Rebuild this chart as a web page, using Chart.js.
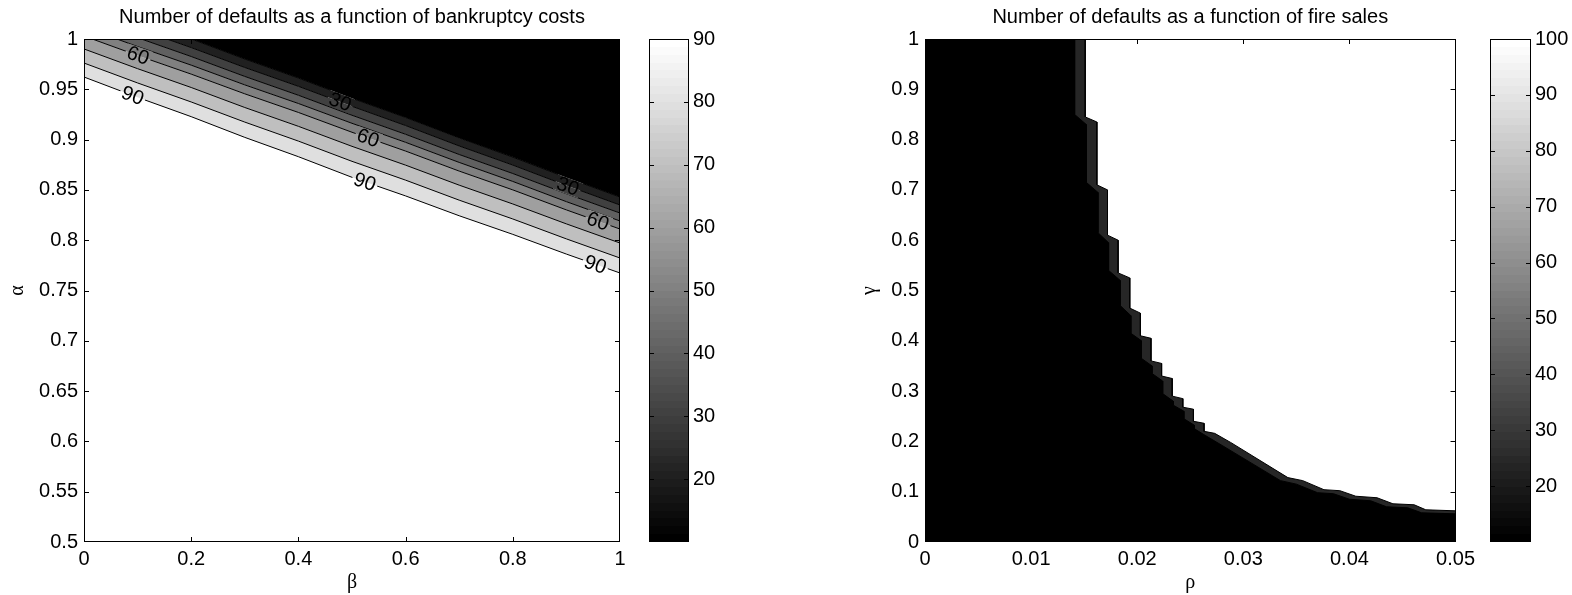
<!DOCTYPE html>
<html><head><meta charset="utf-8">
<script src="https://cdn.jsdelivr.net/npm/chart.js@4.4.1/dist/chart.umd.min.js"></script>
<style>
html,body{margin:0;padding:0;background:#fff;width:1572px;height:595px;overflow:hidden}
canvas{position:absolute;top:0}
</style></head><body>
<canvas id="c1" width="640" height="595" style="left:0px"></canvas>
<canvas id="c2" width="100" height="595" style="left:640px"></canvas>
<canvas id="c3" width="640" height="595" style="left:840px"></canvas>
<canvas id="c4" width="92" height="595" style="left:1480px"></canvas>
<script>
// ---------- data: left panel (bankruptcy costs) ----------
const leftTitle = 'Number of defaults as a function of bankruptcy costs';
const betaGrid = [0, 0.1, 0.2, 0.3, 0.4, 0.5, 0.6, 0.7, 0.8, 0.9, 1];
const contourLevels = [20, 30, 40, 50, 60, 70, 80, 90];
const contour20 = [1.0388, 1.0190, 1.0001, 0.9801, 0.9612, 0.9411, 0.9220, 0.9017, 0.8826, 0.8623, 0.8429];
const contour30 = [1.0298, 1.0102, 0.9915, 0.9717, 0.9530, 0.9331, 0.9140, 0.8937, 0.8747, 0.8544, 0.8350];
const contour40 = [1.0209, 1.0013, 0.9826, 0.9628, 0.9441, 0.9242, 0.9053, 0.8852, 0.8663, 0.8462, 0.8270];
const contour50 = [1.0119, 0.9925, 0.9740, 0.9544, 0.9359, 0.9162, 0.8973, 0.8773, 0.8584, 0.8383, 0.8191];
const contour60 = [1.0030, 0.9836, 0.9651, 0.9455, 0.9270, 0.9073, 0.8886, 0.8687, 0.8500, 0.8301, 0.8111];
const contour70 = [0.9901, 0.9705, 0.9518, 0.9319, 0.9132, 0.8933, 0.8746, 0.8547, 0.8360, 0.8162, 0.7972];
const contour80 = [0.9761, 0.9563, 0.9374, 0.9174, 0.8985, 0.8784, 0.8597, 0.8398, 0.8211, 0.8013, 0.7823];
const contour90 = [0.9622, 0.9420, 0.9228, 0.9022, 0.8830, 0.8625, 0.8440, 0.8243, 0.8058, 0.7862, 0.7674];
const labelLevel = [60, 90, 30, 60, 90, 30, 60, 90];
const labelBeta  = [0.101, 0.091, 0.478, 0.530, 0.524, 0.903, 0.959, 0.954];
const labelAlpha = [0.9838, 0.9440, 0.9377, 0.9018, 0.8582, 0.8538, 0.8189, 0.7760];
const betaTicks = [0, 0.2, 0.4, 0.6, 0.8, 1];
const betaTickLabels = ['0', '0.2', '0.4', '0.6', '0.8', '1'];
const alphaTicks = [0.5, 0.55, 0.6, 0.65, 0.7, 0.75, 0.8, 0.85, 0.9, 0.95, 1];
const alphaTickLabels = ['0.5', '0.55', '0.6', '0.65', '0.7', '0.75', '0.8', '0.85', '0.9', '0.95', '1'];
const cbLeftRange = [10, 90];
const cbLeftTicks = [20, 30, 40, 50, 60, 70, 80, 90];
const cbLeftTickLabels = ['20', '30', '40', '50', '60', '70', '80', '90'];

// ---------- data: right panel (fire sales) ----------
const rightTitle = 'Number of defaults as a function of fire sales';
const rhoInner   = [0, 0.0141, 0.0141, 0.0152, 0.0152, 0.0163, 0.0163, 0.0173, 0.0173, 0.0184, 0.0184, 0.0194, 0.0194, 0.0204, 0.0204, 0.0214, 0.0214, 0.0224, 0.0224, 0.0234, 0.0234, 0.0244, 0.0244, 0.0254, 0.0254, 0.0264, 0.0280, 0.0335, 0.0350, 0.0370, 0.0385, 0.0400, 0.0420, 0.0435, 0.0455, 0.0468, 0.0500];
const gammaInner = [1, 1, 0.850, 0.830, 0.715, 0.695, 0.615, 0.595, 0.540, 0.520, 0.470, 0.450, 0.415, 0.400, 0.365, 0.350, 0.335, 0.320, 0.295, 0.280, 0.272, 0.260, 0.245, 0.232, 0.225, 0.212, 0.192, 0.122, 0.115, 0.098, 0.096, 0.085, 0.082, 0.070, 0.068, 0.058, 0.056];
const rhoOuter   = [0, 0.0151, 0.0151, 0.0162, 0.0162, 0.0172, 0.0172, 0.0182, 0.0182, 0.0193, 0.0193, 0.0203, 0.0203, 0.0213, 0.0213, 0.0223, 0.0223, 0.0233, 0.0233, 0.0243, 0.0243, 0.0253, 0.0253, 0.0263, 0.0263, 0.0273, 0.0288, 0.0342, 0.0356, 0.0376, 0.0391, 0.0406, 0.0426, 0.0441, 0.0461, 0.0472, 0.0500];
const gammaOuter = [1, 1, 0.845, 0.835, 0.710, 0.700, 0.610, 0.600, 0.535, 0.525, 0.465, 0.455, 0.410, 0.405, 0.360, 0.355, 0.330, 0.325, 0.290, 0.285, 0.268, 0.264, 0.240, 0.236, 0.220, 0.216, 0.198, 0.128, 0.122, 0.104, 0.102, 0.091, 0.088, 0.076, 0.074, 0.064, 0.062];
const rhoTicks = [0, 0.01, 0.02, 0.03, 0.04, 0.05];
const rhoTickLabels = ['0', '0.01', '0.02', '0.03', '0.04', '0.05'];
const gammaTicks = [0, 0.1, 0.2, 0.3, 0.4, 0.5, 0.6, 0.7, 0.8, 0.9, 1];
const gammaTickLabels = ['0', '0.1', '0.2', '0.3', '0.4', '0.5', '0.6', '0.7', '0.8', '0.9', '1'];
const cbRightRange = [10, 100];
const cbRightTicks = [20, 30, 40, 50, 60, 70, 80, 90, 100];
const cbRightTickLabels = ['20', '30', '40', '50', '60', '70', '80', '90', '100'];

// ---------- styling helpers ----------
const SANS = "'Liberation Sans', Arial, Helvetica, sans-serif";
const SERIF = "'Liberation Serif', 'Times New Roman', serif";
Chart.defaults.font.family = SANS;
Chart.defaults.font.size = 20;
Chart.defaults.color = '#000';

const grayOf = v => { const g = Math.round(Math.max(0, Math.min(1, v)) * 255); return `rgb(${g},${g},${g})`; };

const frameTicks = {
  id: 'frameTicks',
  afterDatasetsDraw(chart, args, opts) {
    const {ctx, chartArea: a} = chart;
    const L = opts.len || 5;
    ctx.save();
    ctx.strokeStyle = '#000';
    ctx.lineWidth = 1;
    ctx.beginPath();
    if (opts.x !== false) {
      const xs = chart.scales.x;
      xs.ticks.forEach(t => {
        const p = Math.round(xs.getPixelForValue(t.value)) + 0.5;
        if (p <= a.left + 2 || p >= a.right - 2) return;
        ctx.moveTo(p, a.bottom); ctx.lineTo(p, a.bottom - L);
        ctx.moveTo(p, a.top); ctx.lineTo(p, a.top + L);
      });
    }
    const ys = chart.scales.y;
    ys.ticks.forEach(t => {
      const p = Math.round(ys.getPixelForValue(t.value)) + 0.5;
      if (p <= a.top + 2 || p >= a.bottom - 2) return;
      ctx.moveTo(a.left, p); ctx.lineTo(a.left + L, p);
      ctx.moveTo(a.right, p); ctx.lineTo(a.right - L, p);
    });
    ctx.stroke();
    const l = Math.round(a.left) + 0.5, t = Math.round(a.top) + 0.5;
    const r = Math.round(a.right) - 0.5, b = Math.round(a.bottom) - 0.5;
    ctx.strokeRect(l, t, r - l, b - t);
    ctx.restore();
  }
};

// contour labels with gaps in the lines
function labelGeometry(chart, opts) {
  const xs = chart.scales.x, ys = chart.scales.y, ctx = chart.ctx;
  ctx.save();
  ctx.font = `20px ${SANS}`;
  const out = opts.level.map((lev, i) => {
    const arr = opts.lines[opts.levels.indexOf(lev)];
    let j = 0;
    while (j < opts.grid.length - 2 && opts.grid[j + 1] < opts.beta[i]) j++;
    const dx = xs.getPixelForValue(opts.grid[j + 1]) - xs.getPixelForValue(opts.grid[j]);
    const dy = ys.getPixelForValue(arr[j + 1]) - ys.getPixelForValue(arr[j]);
    return {
      text: String(lev),
      x: xs.getPixelForValue(opts.beta[i]),
      y: ys.getPixelForValue(opts.alpha[i]),
      ang: Math.atan2(dy, dx),
      w: ctx.measureText(String(lev)).width + 4,
      h: 16
    };
  });
  ctx.restore();
  return out;
}
const contourLabels = {
  id: 'contourLabels',
  beforeDatasetDraw(chart, args, opts) {
    if (!opts.level) return;
    const ctx = chart.ctx;
    ctx.save();
    ctx.beginPath();
    ctx.rect(0, 0, chart.width, chart.height);
    labelGeometry(chart, opts).forEach(g => {
      const c = Math.cos(g.ang), s = Math.sin(g.ang);
      const pts = [[-g.w / 2, -g.h / 2], [g.w / 2, -g.h / 2], [g.w / 2, g.h / 2], [-g.w / 2, g.h / 2]]
        .map(([u, v]) => [g.x + u * c - v * s, g.y + u * s + v * c]);
      ctx.moveTo(pts[0][0], pts[0][1]);
      for (let k = 1; k < 4; k++) ctx.lineTo(pts[k][0], pts[k][1]);
      ctx.closePath();
    });
    ctx.clip('evenodd');
  },
  afterDatasetDraw(chart, args, opts) {
    if (!opts.level) return;
    chart.ctx.restore();
  },
  afterDatasetsDraw(chart, args, opts) {
    if (!opts.level) return;
    const ctx = chart.ctx;
    ctx.save();
    ctx.font = `20px ${SANS}`;
    ctx.fillStyle = '#000';
    ctx.textAlign = 'center';
    ctx.textBaseline = 'middle';
    labelGeometry(chart, opts).forEach(g => {
      ctx.save();
      ctx.translate(g.x, g.y);
      ctx.rotate(g.ang);
      ctx.fillText(g.text, 0, 1);
      ctx.restore();
    });
    ctx.restore();
  }
};

function plotScales(p) {
  return {
    x: {
      type: 'linear', min: p.xMin, max: p.xMax,
      grid: {display: false, drawTicks: false}, border: {display: false},
      afterBuildTicks: s => { s.ticks = p.xTicks.map(v => ({value: v})); },
      ticks: {autoSkip: false, maxRotation: 0, padding: 5, callback: (v, i) => p.xLabels[i]},
      afterFit: s => { s.height = 53; },
      title: {display: true, text: p.xTitle, font: {family: SERIF, size: 20}, padding: {top: 0, bottom: 0}}
    },
    y: {
      type: 'linear', min: p.yMin, max: p.yMax,
      grid: {display: false, drawTicks: false}, border: {display: false},
      afterBuildTicks: s => { s.ticks = p.yTicks.map(v => ({value: v})); },
      ticks: {autoSkip: false, padding: 6, callback: (v, i) => p.yLabels[i]},
      afterFit: s => { s.width = p.yWidth; },
      title: {display: true, text: p.yTitle, font: {family: SERIF, size: 20}, padding: {top: p.yTitlePad, bottom: 0}}
    }
  };
}

function titleOpts(text) {
  return {display: true, text, fullSize: false, font: {size: 20, weight: 'normal'}, color: '#000', padding: {top: 5, bottom: 10}};
}

// ---------- left contour panel ----------
const leftLines = [contour20, contour30, contour40, contour50, contour60, contour70, contour80, contour90];
const leftDatasets = contourLevels.map((lev, i) => ({
  data: betaGrid.map((b, j) => ({x: b, y: leftLines[i][j]})),
  borderColor: '#000', borderWidth: 1, pointRadius: 0, tension: 0,
  fill: i === 0 ? 'end' : '-1',
  backgroundColor: i === 0 ? '#000' : grayOf((contourLevels[i - 1] - cbLeftRange[0]) / (cbLeftRange[1] - cbLeftRange[0]))
}));

new Chart(document.getElementById('c1'), {
  type: 'line',
  data: {datasets: leftDatasets},
  options: {
    responsive: false, devicePixelRatio: 1, animation: false,
    layout: {padding: {left: 0, right: 20, top: 0, bottom: 0}},
    plugins: {
      legend: {display: false}, tooltip: {enabled: false},
      title: titleOpts(leftTitle),
      frameTicks: {len: 5},
      contourLabels: {level: labelLevel, beta: labelBeta, alpha: labelAlpha, levels: contourLevels, lines: leftLines, grid: betaGrid}
    },
    scales: plotScales({xMin: 0, xMax: 1, xTicks: betaTicks, xLabels: betaTickLabels, xTitle: 'β',
      yMin: 0.5, yMax: 1, yTicks: alphaTicks, yLabels: alphaTickLabels, yTitle: 'α', yWidth: 84, yTitlePad: 6})
  },
  plugins: [contourLabels, frameTicks]
});

// ---------- right contour panel ----------
new Chart(document.getElementById('c3'), {
  type: 'line',
  data: {datasets: [
    {data: rhoInner.map((r, i) => ({x: r, y: gammaInner[i]})), borderColor: '#000', borderWidth: 1,
     pointRadius: 0, tension: 0, fill: 'origin', backgroundColor: '#000', order: 0},
    {data: rhoOuter.map((r, i) => ({x: r, y: gammaOuter[i]})), borderColor: '#000', borderWidth: 1,
     pointRadius: 0, tension: 0, fill: 'origin', backgroundColor: '#262626', order: 1}
  ]},
  options: {
    responsive: false, devicePixelRatio: 1, animation: false,
    layout: {padding: {left: 0, right: 19, top: 0, bottom: 0}},
    plugins: {
      legend: {display: false}, tooltip: {enabled: false},
      title: titleOpts(rightTitle),
      frameTicks: {len: 5}
    },
    scales: plotScales({xMin: 0, xMax: 0.05, xTicks: rhoTicks, xLabels: rhoTickLabels, xTitle: 'ρ',
      yMin: 0, yMax: 1, yTicks: gammaTicks, yLabels: gammaTickLabels, yTitle: 'γ', yWidth: 85, yTitlePad: 18})
  },
  plugins: [frameTicks]
});

// ---------- colorbars ----------
function grayGradient(c) {
  const a = c.chart.chartArea;
  if (!a) return '#888';
  const g = c.chart.ctx.createLinearGradient(0, a.bottom, 0, a.top);
  const n = 64;
  for (let i = 0; i < n; i++) {
    const col = grayOf(i / (n - 1));
    g.addColorStop(i / n, col);
    g.addColorStop(Math.min(1, (i + 1) / n - 1e-4), col);
  }
  return g;
}
function colorbar(id, range, ticks, labels, padLeft, yWidth) {
  return new Chart(document.getElementById(id), {
    type: 'bar',
    data: {labels: [''], datasets: [{data: [[range[0], range[1]]], backgroundColor: grayGradient,
      borderWidth: 0, barPercentage: 1, categoryPercentage: 1}]},
    options: {
      responsive: false, devicePixelRatio: 1, animation: false,
      layout: {padding: {left: padLeft, top: 39, bottom: 53, right: 0}},
      plugins: {legend: {display: false}, tooltip: {enabled: false}, frameTicks: {x: false, len: 5}},
      scales: {
        x: {display: false},
        y: {position: 'right', min: range[0], max: range[1],
            grid: {display: false, drawTicks: false}, border: {display: false},
            afterBuildTicks: s => { s.ticks = ticks.map(v => ({value: v})); },
            ticks: {autoSkip: false, padding: 4, callback: (v, i) => labels[i]},
            afterFit: s => { s.width = yWidth; }}
      }
    },
    plugins: [frameTicks]
  });
}
colorbar('c2', cbLeftRange, cbLeftTicks, cbLeftTickLabels, 9, 51);
colorbar('c4', cbRightRange, cbRightTicks, cbRightTickLabels, 10, 41);
</script>
</body></html>
